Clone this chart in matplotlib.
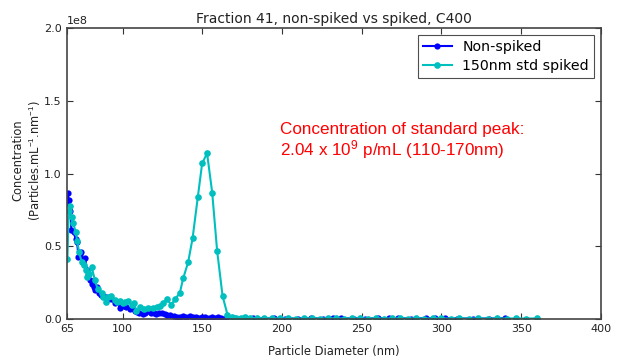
import matplotlib
matplotlib.use("Agg")
import matplotlib.pyplot as plt
import numpy as np

plt.rcParams['mathtext.fontset'] = 'custom'
plt.rcParams['mathtext.rm'] = 'Liberation Sans'
plt.rcParams['mathtext.it'] = 'Liberation Sans'

# Non-spiked (x in nm, y in 1e8 particles/mL/nm)
ns_x = [65.0, 65.6, 66.2, 67.3, 67.9, 69.4, 70.5, 71.5, 72.3, 73.3, 74.2, 75.2, 76.2,
        77.7, 78.5, 79.4, 80.6, 81.9, 83.0, 84.2, 85.3, 86.3, 87.8, 89.4, 91.0, 93.0,
        95.1, 96.8, 98.2, 99.8, 101.0, 102.3, 104.4, 106.0, 107.5, 109.0, 110.5, 112.7,
        114.0, 115.8, 118.0, 119.5, 121.0, 123.0, 124.8, 126.5, 128.0, 130.0, 132.0,
        134.0, 136.0, 138.0, 140.0, 142.0, 144.0, 146.0, 148.0, 150.0, 152.0, 154.0,
        156.0, 158.0, 160.0, 162.0, 165.0, 170.0, 176.0, 182.0, 188.0, 195.0, 202.0,
        210.0, 218.0, 226.0, 232.0, 237.0, 245.0, 252.0, 260.0, 267.0, 273.0, 281.0,
        290.0, 296.0, 302.0, 310.0, 320.0, 330.0, 340.0]
ns_y = [0.80, 0.87, 0.82, 0.74, 0.61, 0.60, 0.55, 0.53, 0.43, 0.45, 0.46, 0.40, 0.42,
        0.34, 0.30, 0.27, 0.24, 0.22, 0.20, 0.22, 0.18, 0.165, 0.16, 0.15, 0.14, 0.135,
        0.11, 0.12, 0.078, 0.10, 0.09, 0.08, 0.067, 0.075, 0.057, 0.05, 0.045, 0.034,
        0.045, 0.055, 0.043, 0.04, 0.034, 0.04, 0.043, 0.034, 0.03, 0.025, 0.02,
        0.018, 0.015, 0.02, 0.018, 0.02, 0.015, 0.012, 0.01, 0.012, 0.015, 0.01,
        0.012, 0.01, 0.015, 0.01, 0.008, 0.006, 0.005, 0.005, 0.004, 0.005, 0.004,
        0.004, 0.005, 0.004, 0.005, 0.006, 0.004, 0.004, 0.005, 0.006, 0.006, 0.004,
        0.006, 0.006, 0.006, 0.004, 0.004, 0.004, 0.006]

# 150nm std spiked
sp_x = [65.4, 66.2, 66.9, 68.0, 69.0, 70.6, 71.5, 72.7, 74.4, 75.7, 76.9, 77.7, 79.0,
        80.7, 82.6, 84.3, 86.8, 88.0, 89.5, 90.9, 93.0, 95.1, 96.5, 98.2, 100.0, 101.4,
        103.5, 105.6, 107.2, 108.7, 110.8, 113.3, 116.0, 118.8, 121.3, 123.3, 125.4,
        127.9, 130.4, 132.9, 135.9, 138.0, 141.1, 143.9, 147.2, 149.9, 153.0, 156.2,
        159.3, 162.7, 165.8, 168.5, 171.0, 174.0, 177.0, 180.0, 184.0, 189.0, 194.0,
        199.0, 204.0, 209.0, 214.0, 219.0, 224.0, 229.0, 234.0, 239.0, 244.0, 249.0,
        254.0, 259.0, 264.0, 269.0, 274.0, 279.0, 284.0, 289.0, 295.0, 300.0, 306.0,
        311.0, 317.0, 323.0, 329.0, 335.0, 341.0, 347.0, 353.0, 360.0]
sp_y = [0.41, 0.74, 0.78, 0.70, 0.66, 0.60, 0.54, 0.46, 0.39, 0.37, 0.34, 0.29, 0.31,
        0.355, 0.27, 0.21, 0.18, 0.15, 0.12, 0.15, 0.16, 0.13, 0.12, 0.125, 0.11, 0.12,
        0.125, 0.10, 0.11, 0.057, 0.08, 0.07, 0.078, 0.078, 0.08, 0.09, 0.108,
        0.14, 0.098, 0.137, 0.18, 0.28, 0.39, 0.555, 0.84, 1.07, 1.14, 0.87,
        0.47, 0.16, 0.03, 0.015, 0.01, 0.008, 0.012, 0.008, 0.006, 0.005, 0.005,
        0.005, 0.005, 0.004, 0.005, 0.005, 0.004, 0.005, 0.005, 0.004, 0.005, 0.005,
        0.004, 0.005, 0.004, 0.005, 0.005, 0.004, 0.005, 0.004, 0.005, 0.005, 0.004,
        0.005, 0.004, 0.005, 0.004, 0.005, 0.004, 0.005, 0.004, 0.005]

x_ticks = [65, 100, 150, 200, 250, 300, 350, 400]
y_ticks = [0.0, 0.5, 1.0, 1.5, 2.0]

fig = plt.figure(figsize=(6.24, 3.61), dpi=100, facecolor='white')
ax = fig.add_axes([0.107, 0.116, 0.856, 0.806])

ax.plot(ns_x, np.array(ns_y) * 1e8, color='#0000ff', marker='o', markersize=4.5,
        markeredgewidth=0, lw=1.5, label='Non-spiked')
ax.plot(sp_x, np.array(sp_y) * 1e8, color='#00bfbf', marker='o', markersize=4.8,
        markeredgewidth=0, lw=1.5, label='150nm std spiked')

ax.set_xlim(65, 400)
ax.set_ylim(0, 2e8)
ax.set_xticks(x_ticks)
ax.set_yticks([v * 1e8 for v in y_ticks])
ax.ticklabel_format(axis='y', style='sci', scilimits=(0, 0))
ax.tick_params(direction='in', top=True, right=True, labelsize=8, length=4, width=0.8,
               colors='#333333', labelcolor='#222222')
ax.yaxis.get_offset_text().set_fontsize(8)
for s in ax.spines.values():
    s.set_color('#444444')
    s.set_linewidth(1.2)

ax.set_title('Fraction 41, non-spiked vs spiked, C400', fontsize=10, pad=4, color='#222222')
ax.set_xlabel('Particle Diameter (nm)', fontsize=8.3, color='#222222', labelpad=8)
ax.set_ylabel('Concentration\n(Particles.mL$^{-1}$.nm$^{-1}$)', fontsize=8.3, color='#222222')
ax.yaxis.set_label_coords(-0.045, 0.545)

leg = ax.legend(loc='upper right', fontsize=10.2, frameon=True, fancybox=False,
                borderpad=0.35, handlelength=2.0, labelspacing=0.35, handletextpad=0.75,
                borderaxespad=0.5)
leg.get_frame().set_edgecolor('#222222')
leg.get_frame().set_linewidth(0.8)

ax.text(0.40, 0.676, 'Concentration of standard peak:\n2.04 x 10$^9$ p/mL (110-170nm)',
        transform=ax.transAxes, color='red', fontsize=12.3, family='Liberation Sans',
        va='top', ha='left', linespacing=1.05)

fig.savefig('out.png', dpi=100, facecolor='white')
